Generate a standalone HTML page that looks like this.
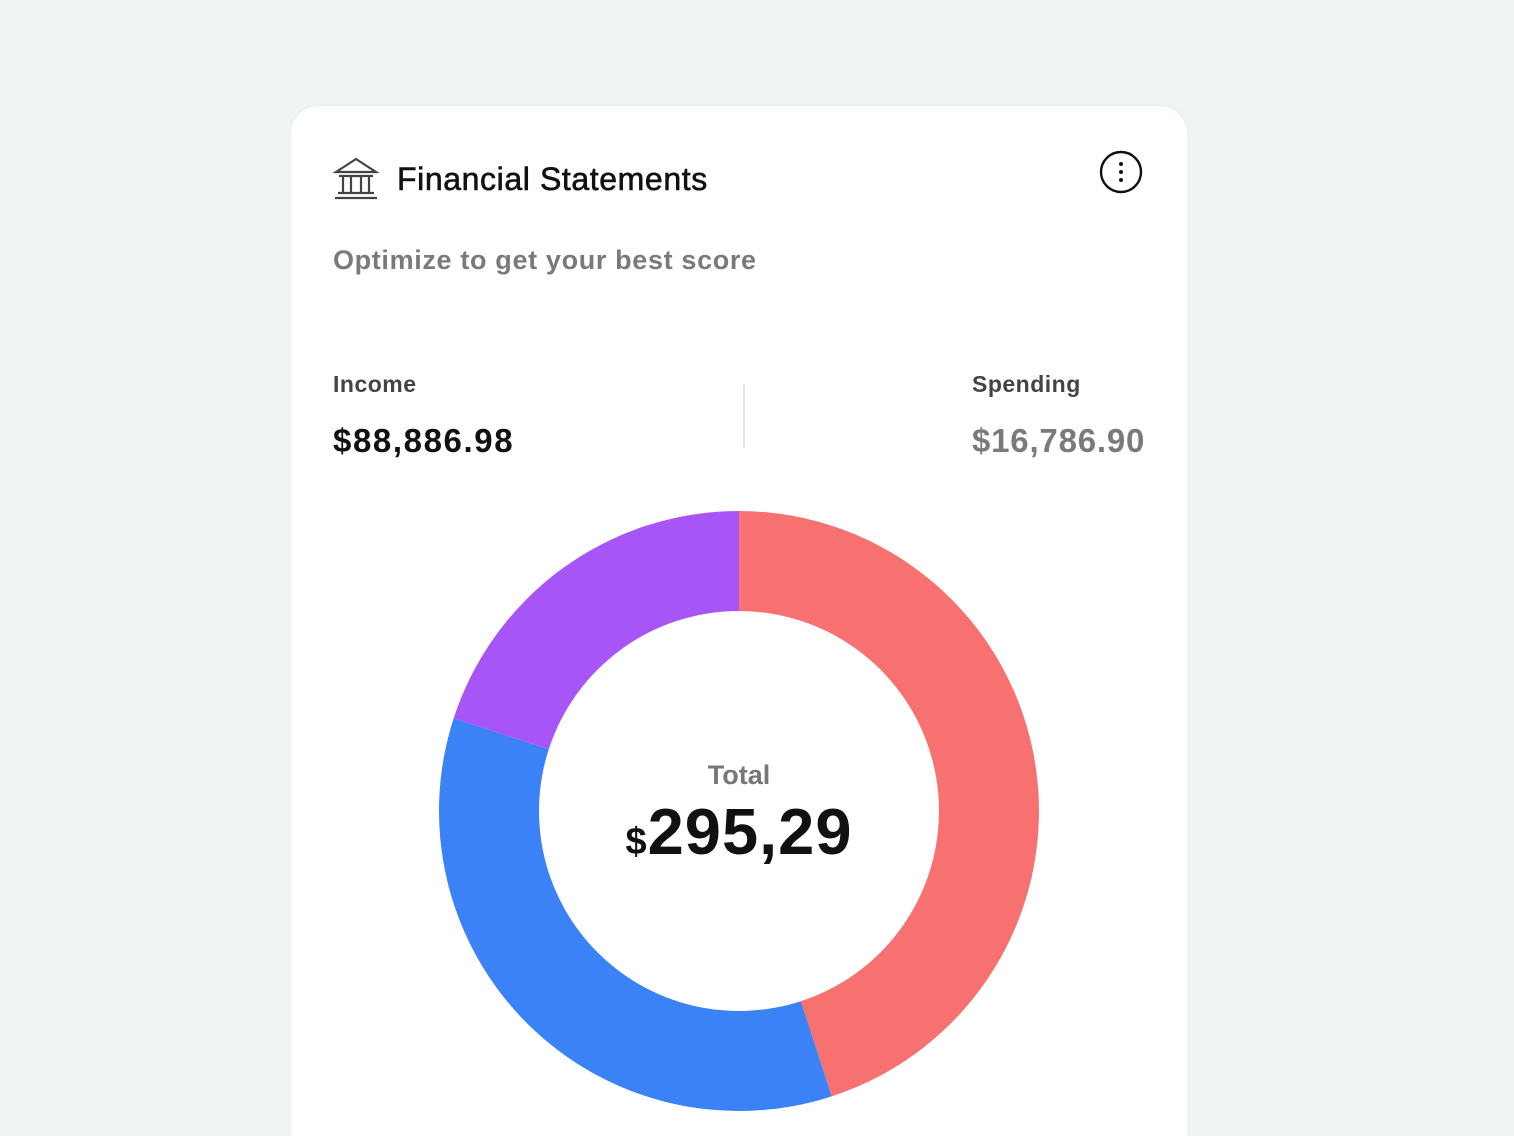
<!DOCTYPE html>
<html style="width:1514px;height:1136px;overflow:hidden"><head><meta charset="utf-8"><style>
html,body{margin:0;width:1514px;height:1136px;overflow:hidden}
body{background:#f1f4f5;font-family:"Liberation Sans",sans-serif;position:relative}
.card{position:absolute;left:291px;top:106px;width:896px;height:1060px;background:#fff;border-radius:28px;box-shadow:0 0 6px rgba(0,0,0,0.04)}
.abs{position:absolute;white-space:nowrap}
</style></head><body>
<div class="card">
 <svg class="abs" style="left:42px;top:50px" width="46" height="46" viewBox="0 0 46 46">
  <g fill="none" stroke="#444" stroke-width="2.2">
   <path d="M3 16 L23 3 L43 16 Z"/><line x1="6" y1="20" x2="40" y2="20"/>
   <line x1="10" y1="20" x2="10" y2="36"/><line x1="18" y1="20" x2="18" y2="36"/><line x1="28" y1="20" x2="28" y2="36"/><line x1="36" y1="20" x2="36" y2="36"/>
   <line x1="5" y1="37" x2="41" y2="37"/><line x1="2" y1="42" x2="44" y2="42"/>
  </g></svg>
 <div class="abs" style="left:106px;top:55px;font-size:32px;color:#111;-webkit-text-stroke:0.6px #111;letter-spacing:0.6px">Financial Statements</div>
 <svg class="abs" style="left:808px;top:44px" width="44" height="44">
  <circle cx="22" cy="22" r="20" fill="none" stroke="#111" stroke-width="2.4"/>
  <circle cx="22" cy="14" r="2" fill="#111"/><circle cx="22" cy="22" r="2" fill="#111"/><circle cx="22" cy="30" r="2" fill="#111"/></svg>
 <div class="abs" style="left:42px;top:139px;font-size:27px;color:#7a7a7a;font-weight:bold;letter-spacing:0.65px">Optimize to get your best score</div>
 <div class="abs" style="left:42px;top:265px;font-size:23px;color:#444;font-weight:bold;letter-spacing:0.5px">Income</div>
 <div class="abs" style="left:42px;top:316px;font-size:33px;color:#111;font-weight:bold;letter-spacing:1.6px">$88,886.98</div>
 <div class="abs" style="left:452px;top:278px;width:2px;height:64px;background:#e4e4e4"></div>
 <div class="abs" style="left:681px;top:265px;font-size:23px;color:#444;font-weight:bold;letter-spacing:0.5px">Spending</div>
 <div class="abs" style="left:681px;top:316px;font-size:33px;color:#7a7a7a;font-weight:bold;letter-spacing:0.8px">$16,786.90</div>
</div>
<svg id="donut" class="abs" style="left:0;top:0" width="1514" height="1136"></svg>
<div class="abs" style="left:639px;top:760px;width:200px;text-align:center;font-size:27px;color:#777;font-weight:bold">Total</div>
<div class="abs" style="left:539px;top:794px;width:400px;text-align:center;font-size:65px;color:#111;font-weight:bold;letter-spacing:1px"><span style="font-size:38px">$</span>295,29</div>
<script>
const categories=["Income","Savings","Spending"];
const values=[45,35,20];
const colors=["#f87171","#3b82f6","#a855f7"];
const svg=document.getElementById('donut');
const cx=739,cy=811,R=300,r=200;
const total=values.reduce((a,b)=>a+b,0);
function pt(a,rad){return [cx+rad*Math.sin(a),cy-rad*Math.cos(a)];}
let start=0;
values.forEach((v,i)=>{
 const end=start+v/total*2*Math.PI;
 const large=(end-start)>Math.PI?1:0;
 const [x1,y1]=pt(start,R),[x2,y2]=pt(end,R),[x3,y3]=pt(end,r),[x4,y4]=pt(start,r);
 const p=document.createElementNS('http://www.w3.org/2000/svg','path');
 p.setAttribute('d',`M${x1} ${y1} A${R} ${R} 0 ${large} 1 ${x2} ${y2} L${x3} ${y3} A${r} ${r} 0 ${large} 0 ${x4} ${y4} Z`);
 p.setAttribute('fill',colors[i]);
 
 
 svg.appendChild(p);
 start=end;
});
</script>
</body></html>
